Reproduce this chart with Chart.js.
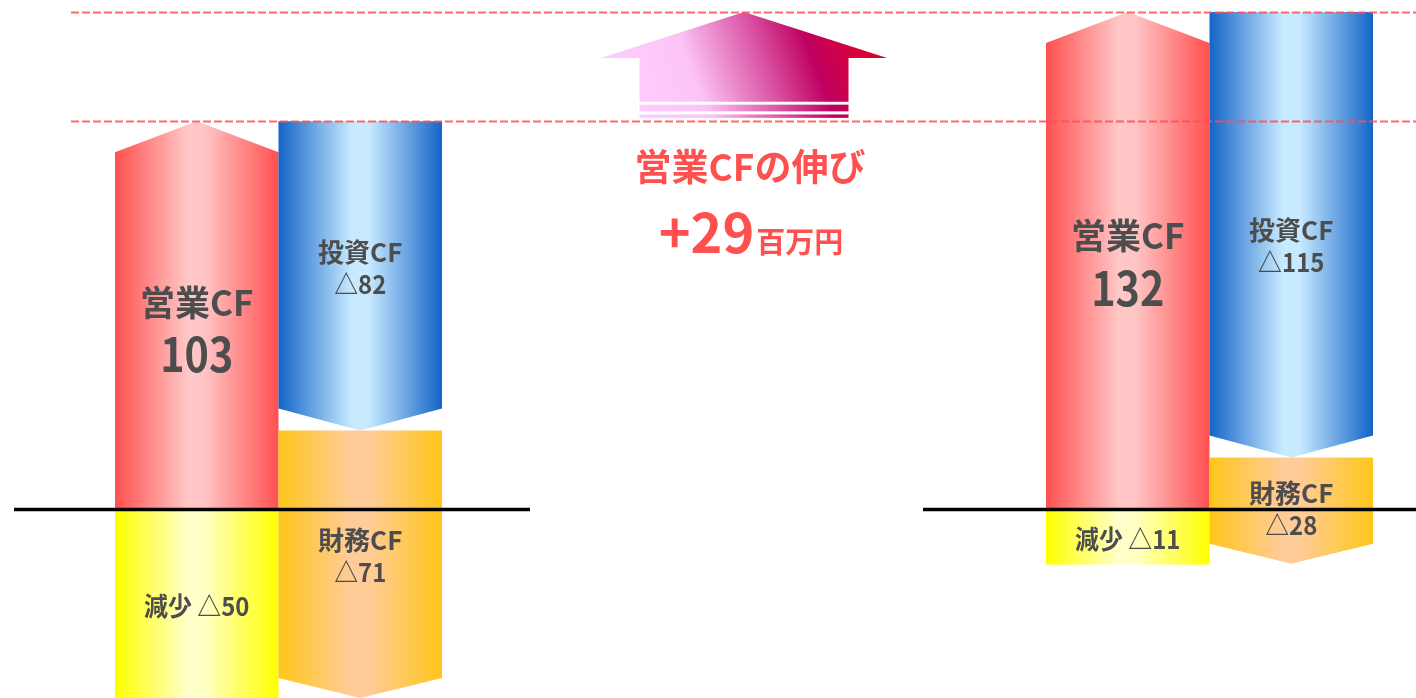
<!DOCTYPE html>
<html lang="ja">
<head>
<meta charset="utf-8">
<title>キャッシュフローの推移</title>
<script src="https://cdn.jsdelivr.net/npm/chart.js@4.4.1/dist/chart.umd.min.js"></script>
<style>
  html, body { margin: 0; padding: 0; background: #fff; }
  canvas { display: block; }
</style>
</head>
<body>
<canvas id="cf-chart" width="1416" height="698"></canvas>
<script>
// Periods: previous year, the growth between them, current year
const periods = ['前期', '伸び', '当期'];

// Values shown in the labels (百万円)
const operatingCF = [103, null, 132];
const investingCF = [82, null, 115];
const financingCF = [71, null, 28];
const cashDecrease = [50, null, 11];
const operatingGrowth = [null, 29, null];

// Bar extents as drawn in the picture (百万円, 0 = black base line)
const operatingBars = [[0, 103], null, [0, 132]];
const investingBars = [[103, 21], null, [132, 13.8]];
const financingBars = [[21, -50], null, [13.8, -14.4]];
const decreaseBars = [[0, -50], null, [0, -14.6]];
const growthBars = [null, [103, 132], null];

const FONT = '"Noto Sans CJK JP", "Noto Sans", sans-serif';
const TEXT_GRAY = '#4d4d4d';
const GROWTH_RED = '#ff5050';

// small vertical nudges of the labels (px) so they sit where the original has them
const labelShift = {
  operating: [13, 0, 1],
  investing: [-8, 0, 11],
  financing: [-8.5, 0, -2],
  decrease: [2, 0, 2]
};

function barBox(bar) {
  const p = bar.getProps(['x', 'y', 'base', 'width'], true);
  return {
    left: p.x - p.width / 2,
    right: p.x + p.width / 2,
    top: Math.min(p.y, p.base),
    bottom: Math.max(p.y, p.base),
    cx: p.x
  };
}

function sideGradient(ctx, b, stops) {
  const g = ctx.createLinearGradient(b.left, 0, b.right, 0);
  stops.forEach(s => g.addColorStop(s[0], s[1]));
  return g;
}

function drawUp(ctx, b, head) {
  ctx.beginPath();
  ctx.moveTo(b.left, b.bottom);
  ctx.lineTo(b.left, b.top + head);
  ctx.lineTo(b.cx, b.top);
  ctx.lineTo(b.right, b.top + head);
  ctx.lineTo(b.right, b.bottom);
  ctx.closePath();
  ctx.fill();
}

function drawDown(ctx, b, head) {
  ctx.beginPath();
  ctx.moveTo(b.left, b.top);
  ctx.lineTo(b.right, b.top);
  ctx.lineTo(b.right, b.bottom - head);
  ctx.lineTo(b.cx, b.bottom);
  ctx.lineTo(b.left, b.bottom - head);
  ctx.closePath();
  ctx.fill();
}

function drawGrowth(ctx, b) {
  const half = (b.right - b.left) * 1.37 / 2;
  const head = 46;
  const g = ctx.createLinearGradient(b.left, b.bottom, b.cx + half, b.top + 18);
  g.addColorStop(0, '#ffccff');
  g.addColorStop(0.25, '#fcc4f6');
  g.addColorStop(0.5, '#dc5aa8');
  g.addColorStop(0.7, '#c00060');
  g.addColorStop(0.92, '#e0002c');
  g.addColorStop(1, '#ea0018');
  ctx.fillStyle = g;
  ctx.beginPath();
  ctx.moveTo(b.cx - half, b.top + head);
  ctx.lineTo(b.cx, b.top);
  ctx.lineTo(b.cx + half, b.top + head);
  ctx.lineTo(b.right, b.top + head);
  ctx.lineTo(b.right, b.bottom - 19.7);
  ctx.lineTo(b.left, b.bottom - 19.7);
  ctx.lineTo(b.left, b.top + head);
  ctx.closePath();
  ctx.fill();
  // the two thin stripes under the arrow
  ctx.fillRect(b.left, b.bottom - 16.7, b.right - b.left, 6.7);
  ctx.fillRect(b.left, b.bottom - 6.9, b.right - b.left, 3.4);
}

function centerText(ctx, text, x, y, size, color, squeeze) {
  ctx.save();
  ctx.font = 'bold ' + size + 'px ' + FONT;
  ctx.fillStyle = color;
  ctx.textAlign = 'center';
  ctx.textBaseline = 'middle';
  ctx.translate(x, y);
  ctx.scale(squeeze || 1, 1);
  ctx.fillText(text, 0, 0);
  ctx.restore();
}

const cfArrows = {
  id: 'cfArrows',
  beforeDatasetDraw() {
    return false; // bars are drawn as arrows below
  },
  afterDatasetsDraw(chart) {
    const ctx = chart.ctx;
    const yScale = chart.scales.y;
    const xScale = chart.scales.x;
    ctx.save();

    chart.data.datasets.forEach((ds, i) => {
      const meta = chart.getDatasetMeta(i);
      meta.data.forEach((bar, j) => {
        if (ds.data[j] == null) return;
        const b = barBox(bar);
        if (ds.shape === 'growth') {
          drawGrowth(ctx, b);
          return;
        }
        ctx.fillStyle = sideGradient(ctx, b, ds.gradient);
        if (ds.shape === 'up') drawUp(ctx, b, ds.head);
        else if (ds.shape === 'down') drawDown(ctx, b, ds.head);
        else ctx.fillRect(b.left, b.top, b.right - b.left, b.bottom - b.top);
      });
    });

    // red dashed levels of operating CF
    ctx.strokeStyle = 'rgba(255, 80, 80, 0.85)';
    ctx.lineWidth = 2;
    ctx.setLineDash([8, 3]);
    [operatingCF[0], operatingCF[2]].forEach(v => {
      const py = Math.round(yScale.getPixelForValue(v)) + 0.5;
      ctx.beginPath();
      ctx.moveTo(71, py);
      ctx.lineTo(chart.width, py);
      ctx.stroke();
    });
    ctx.setLineDash([]);

    // black base line
    const zeroY = yScale.getPixelForValue(0);
    const leftX = xScale.getPixelForValue(0);
    const rightX = xScale.getPixelForValue(2);
    ctx.strokeStyle = '#000';
    ctx.lineWidth = 3.5;
    ctx.beginPath();
    ctx.moveTo(leftX - 264.5, zeroY);
    ctx.lineTo(leftX + 251.5, zeroY);
    ctx.moveTo(rightX - 286.5, zeroY);
    ctx.lineTo(chart.width, zeroY);
    ctx.stroke();

    // labels
    const metaOf = key => chart.getDatasetMeta(chart.data.datasets.findIndex(d => d.key === key));
    [0, 2].forEach(j => {
      let b = barBox(metaOf('operating').data[j]);
      let cy = (b.top + b.bottom) / 2 + labelShift.operating[j];
      centerText(ctx, '営業CF', b.cx, cy - 26, 35, TEXT_GRAY);
      centerText(ctx, String(operatingCF[j]), b.cx, cy + 26, 47, TEXT_GRAY, 0.88);

      b = barBox(metaOf('investing').data[j]);
      cy = (b.top + b.bottom) / 2 + labelShift.investing[j];
      centerText(ctx, '投資CF', b.cx, cy - 16, 26, TEXT_GRAY);
      centerText(ctx, '△' + investingCF[j], b.cx, cy + 16, 26, TEXT_GRAY, 0.92);

      b = barBox(metaOf('financing').data[j]);
      cy = (b.top + b.bottom) / 2 + labelShift.financing[j];
      centerText(ctx, '財務CF', b.cx, cy - 16, 26, TEXT_GRAY);
      centerText(ctx, '△' + financingCF[j], b.cx, cy + 16, 26, TEXT_GRAY, 0.92);

      b = barBox(metaOf('decrease').data[j]);
      cy = (b.top + b.bottom) / 2 + labelShift.decrease[j];
      centerText(ctx, '減少 △' + cashDecrease[j], b.cx, cy, 26, TEXT_GRAY, 0.92);
    });

    // growth caption
    const g = barBox(metaOf('growth').data[1]);
    const gx = g.cx + 6;
    centerText(ctx, '営業CFの伸び', gx, g.bottom + 46, 37, GROWTH_RED);
    const big = '+' + operatingGrowth[1];
    const unit = '百万円';
    ctx.font = 'bold 54px ' + FONT;
    const wBig = ctx.measureText(big).width;
    ctx.font = 'bold 29px ' + FONT;
    const wUnit = ctx.measureText(unit).width;
    const startX = gx - (wBig + wUnit) / 2;
    const baseY = g.bottom + 132;
    ctx.textAlign = 'left';
    ctx.textBaseline = 'alphabetic';
    ctx.fillStyle = GROWTH_RED;
    ctx.font = 'bold 54px ' + FONT;
    ctx.fillText(big, startX, baseY);
    ctx.font = 'bold 29px ' + FONT;
    ctx.fillText(unit, startX + wBig + 2, baseY);

    ctx.restore();
  }
};

const colWidth = 163.5;

new Chart(document.getElementById('cf-chart'), {
  type: 'bar',
  data: {
    labels: periods,
    datasets: [
      {
        key: 'operating', label: '営業CF', data: operatingBars, stack: 'a',
        shape: 'up', head: 31, barThickness: colWidth,
        gradient: [[0, '#ff5050'], [0.45, '#ffc8c8'], [0.55, '#ffc4c4'], [1, '#ff5050']]
      },
      {
        key: 'decrease', label: '減少', data: decreaseBars, stack: 'a',
        shape: 'rect', barThickness: colWidth,
        gradient: [[0, '#ffff00'], [0.45, '#ffffcc'], [0.55, '#ffffc4'], [1, '#ffff00']]
      },
      {
        key: 'investing', label: '投資CF', data: investingBars, stack: 'b',
        shape: 'down', head: 22, barThickness: colWidth,
        gradient: [[0, '#1464c8'], [0.45, '#c8eaff'], [0.55, '#c8eaff'], [1, '#1464c8']]
      },
      {
        key: 'financing', label: '財務CF', data: financingBars, stack: 'b',
        shape: 'down', head: 20, barThickness: colWidth,
        gradient: [[0, '#ffc61a'], [0.45, '#ffcc99'], [0.55, '#ffcc99'], [1, '#ffc61a']]
      },
      {
        key: 'growth', label: '営業CFの伸び', data: growthBars, stack: 'c',
        shape: 'growth', barThickness: 209
      }
    ]
  },
  options: {
    responsive: false,
    animation: false,
    events: [],
    layout: { padding: { left: 278.5, right: 206.5, top: 0, bottom: 0 } },
    datasets: { bar: { skipNull: true, clip: false } },
    scales: {
      x: { type: 'category', offset: false, display: false },
      y: { type: 'linear', min: -50, max: 135.2, stacked: false, display: false }
    },
    plugins: {
      legend: { display: false },
      tooltip: { enabled: false }
    }
  },
  plugins: [cfArrows]
});
</script>
</body>
</html>
